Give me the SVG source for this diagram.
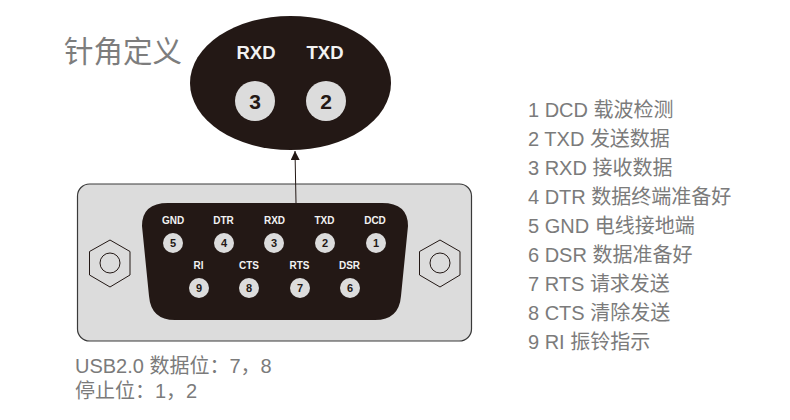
<svg xmlns="http://www.w3.org/2000/svg" width="790" height="420" viewBox="0 0 790 420">
<style>
text{font-family:"Liberation Sans","Noto Sans CJK SC",sans-serif}
.cjk{font-family:"Noto Sans CJK SC","Liberation Sans",sans-serif}
.t{font-size:20px;fill:#7b7b7b}
.lbl{font-size:10px;font-weight:bold;fill:#f2f2f2;text-anchor:middle}
.pin{fill:#dcdcdc}
.num{font-size:11px;font-weight:bold;fill:#231815;text-anchor:middle}
.big{font-size:18.5px;font-weight:bold;fill:#f2f2f2;text-anchor:middle}
.bignum{font-size:21px;font-weight:bold;fill:#231815;text-anchor:middle}
.hex{fill:none;stroke:#231815;stroke-width:1}
</style>
<defs>
<marker id="arr" markerUnits="userSpaceOnUse" markerWidth="10" markerHeight="9" refX="9" refY="4.5" orient="auto"><path d="M0 0L9 4.5L0 9Z" fill="#231815"/></marker>
</defs>
<rect width="790" height="420" fill="#fff"/>
<g id="title"><text class="cjk" x="64" y="62" font-size="29.5" fill="#7d7d7d">针角定义</text></g>
<g id="zoom">
<ellipse cx="290.5" cy="83" rx="100.5" ry="67" fill="#231815"/>
<text class="big" x="256" y="59">RXD</text>
<text class="big" x="325" y="59">TXD</text>
<circle class="pin" cx="255" cy="101" r="20"/><text class="bignum" x="255" y="108.500">3</text>
<circle class="pin" cx="326" cy="101" r="20"/><text class="bignum" x="326" y="108.500">2</text>
</g>
<g id="connector">
<rect x="77.500" y="184" width="394" height="157" rx="12" fill="#dcdcdc" stroke="#3a3a3a" stroke-width="1.200"/>
<path d="M168 203H382Q408 203 408 226L401 296Q399 320 375 320H175Q151 320 149 296L142 226Q142 203 168 203Z" fill="#231815"/>
<g id="hex-left"><path class="hex" d="M110 240L130 251.500V275L110 287L89.500 275V251.500Z"/><circle class="hex" cx="110" cy="263" r="10"/></g>
<g id="hex-right"><path class="hex" d="M440 240L460 251.500V275L440 287L419.500 275V251.500Z"/><circle class="hex" cx="440" cy="263" r="10"/></g>
</g>
<g id="pin5"><text class="lbl" x="173" y="224">GND</text><circle class="pin" cx="173" cy="243" r="10"/><text class="num" x="173" y="247">5</text></g>
<g id="pin4"><text class="lbl" x="223.500" y="224">DTR</text><circle class="pin" cx="224" cy="243" r="10"/><text class="num" x="224" y="247">4</text></g>
<g id="pin3"><text class="lbl" x="274.500" y="224">RXD</text><circle class="pin" cx="274" cy="243" r="10"/><text class="num" x="274" y="247">3</text></g>
<g id="pin2"><text class="lbl" x="324.500" y="224">TXD</text><circle class="pin" cx="325" cy="243" r="10"/><text class="num" x="325" y="247">2</text></g>
<g id="pin1"><text class="lbl" x="375" y="224">DCD</text><circle class="pin" cx="376" cy="243" r="10"/><text class="num" x="376" y="247">1</text></g>
<g id="pin9"><text class="lbl" x="198.500" y="269">RI</text><circle class="pin" cx="199" cy="288" r="10"/><text class="num" x="199" y="292">9</text></g>
<g id="pin8"><text class="lbl" x="249" y="269">CTS</text><circle class="pin" cx="249" cy="288" r="10"/><text class="num" x="249" y="292">8</text></g>
<g id="pin7"><text class="lbl" x="299.500" y="269">RTS</text><circle class="pin" cx="300" cy="288" r="10"/><text class="num" x="300" y="292">7</text></g>
<g id="pin6"><text class="lbl" x="349.500" y="269">DSR</text><circle class="pin" cx="350" cy="288" r="10"/><text class="num" x="350" y="292">6</text></g>
<g id="connectors"><path d="M296 203L295 151" fill="none" stroke="#231815" stroke-width="1" marker-end="url(#arr)"/></g>
<g id="legend">
<text class="t" x="528" y="117">1 DCD 载波检测</text>
<text class="t" x="528" y="146">2 TXD 发送数据</text>
<text class="t" x="528" y="175">3 RXD 接收数据</text>
<text class="t" x="528" y="204">4 DTR 数据终端准备好</text>
<text class="t" x="528" y="233">5 GND 电线接地端</text>
<text class="t" x="528" y="262">6 DSR 数据准备好</text>
<text class="t" x="528" y="291">7 RTS 请求发送</text>
<text class="t" x="528" y="320">8 CTS 清除发送</text>
<text class="t" x="528" y="349">9 RI 振铃指示</text>
</g>
<g id="note">
<text class="t" x="75" y="373">USB2.0 数据位：7，8</text>
<text class="t" x="75" y="398">停止位：1，2</text>
</g>
</svg>
